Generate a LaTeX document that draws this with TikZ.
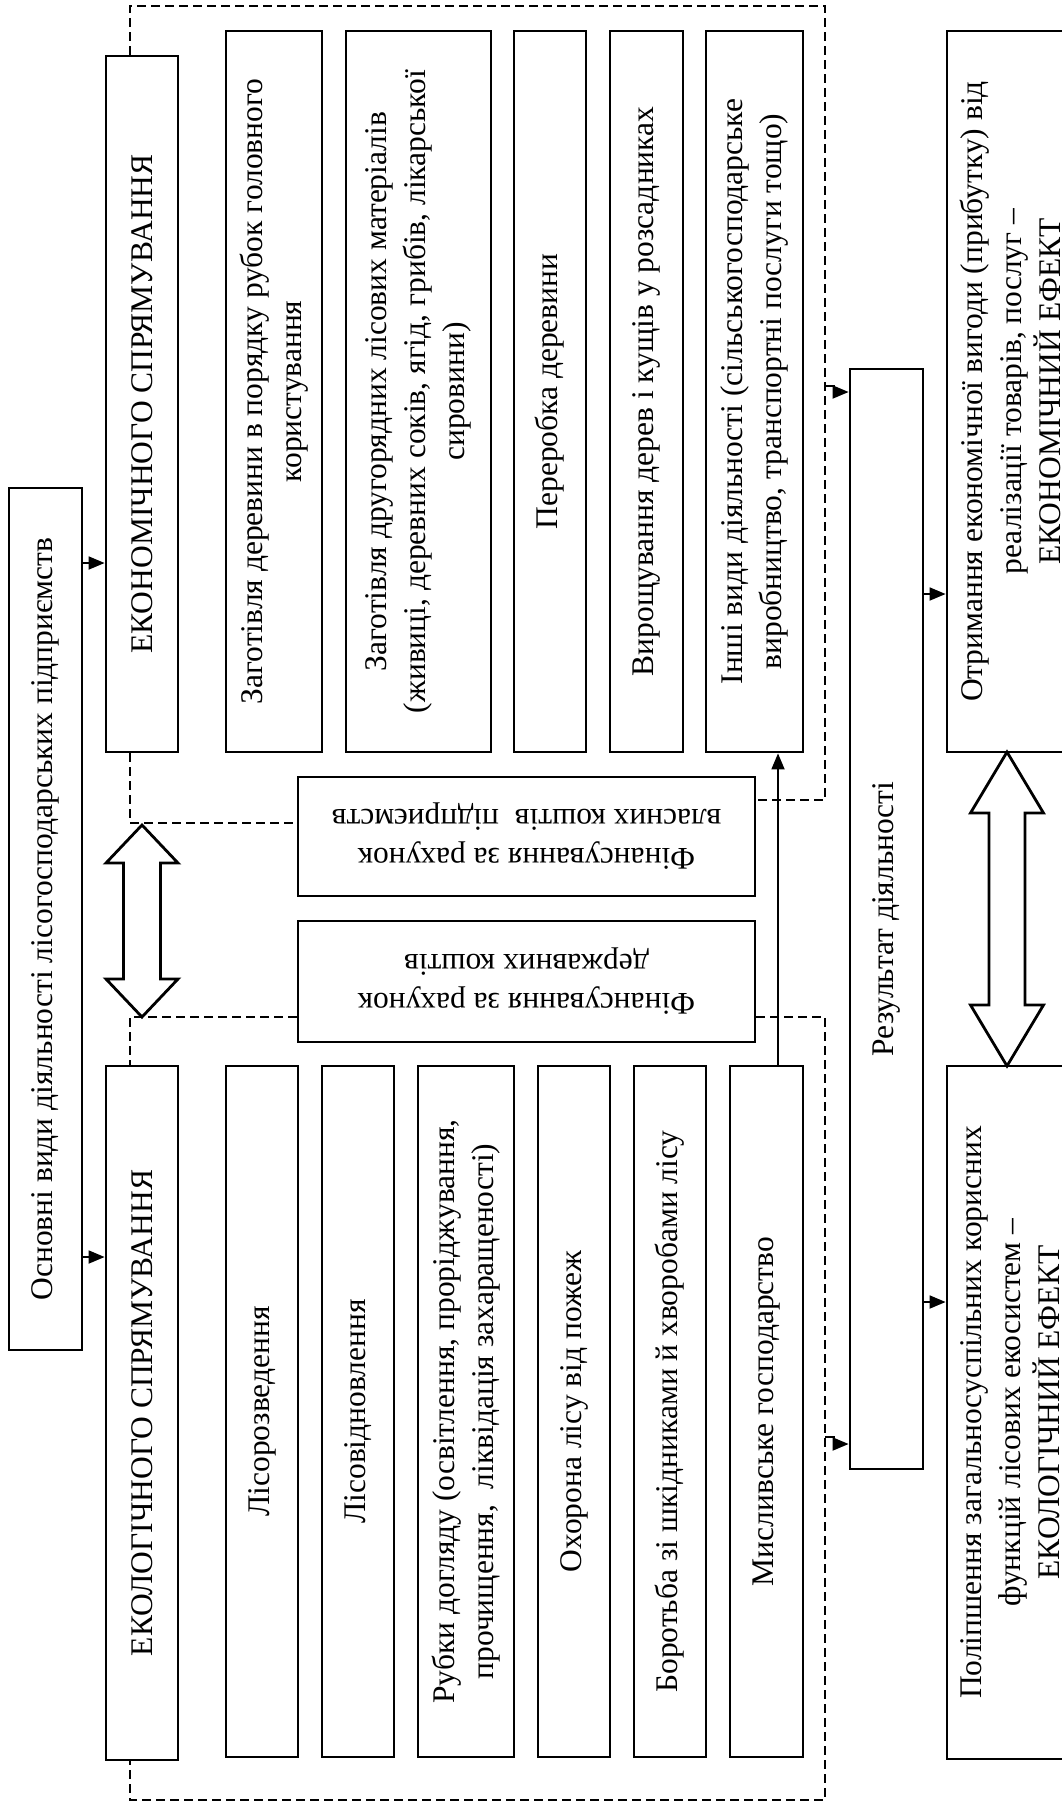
\documentclass[tikz,border=0pt]{standalone}
\usepackage{fontspec}
\setmainfont{Liberation Serif}
\usetikzlibrary{arrows.meta,calc}
\newcommand\dfont{\fontsize{31.5}{39}\selectfont}
\begin{document}
\begin{tikzpicture}[x=1pt,y=-1pt,
  bx/.style={draw, line width=2.8pt, inner sep=0pt, align=center, font=\dfont},
  vbox/.style={bx, rotate=90},
  hbox/.style={bx, rotate=180},
  dline/.style={line width=2.5pt, dash pattern=on 9pt off 5pt},
  arr/.style={line width=1.8pt, -{Triangle[length=16pt,width=13pt]}},
  dbl/.style={draw, line width=2.8pt, fill=white, line join=miter}]
\useasboundingbox (0,0) rectangle (1061,1807);

% main column
\node[vbox, minimum width=862pt, minimum height=73pt] (main) at (45.5,919) {Основні види діяльності лісогосподарських підприємств};
\node[vbox, minimum width=696pt, minimum height=72pt] (econ) at (142,404) {ЕКОНОМІЧНОГО СПРЯМУВАННЯ};
\node[vbox, minimum width=694pt, minimum height=72pt] (ecol) at (142,1413) {ЕКОЛОГІЧНОГО СПРЯМУВАННЯ};

% economic activities
\node[vbox, minimum width=721pt, minimum height=96pt] (e1) at (274,391.5) {Заготівля деревини в порядку рубок головного\\користування};
\node[vbox, minimum width=721pt, minimum height=145pt] (e2) at (418.5,391.5) {Заготівля другорядних лісових матеріалів\\(живиці, деревних соків, ягід, грибів, лікарської\\сировини)};
\node[vbox, minimum width=721pt, minimum height=72pt] (e3) at (550,391.5) {Переробка деревини};
\node[vbox, minimum width=721pt, minimum height=73pt] (e4) at (646.5,391.5) {Вирощування дерев і кущів у розсадниках};
\node[vbox, minimum width=721pt, minimum height=97pt] (e5) at (754.5,391.5) {Інші види діяльності (сільськогосподарське\\виробництво, транспортні послуги тощо)};

% ecological activities
\node[vbox, minimum width=691pt, minimum height=72pt] (g1) at (262,1411.5) {Лісорозведення};
\node[vbox, minimum width=691pt, minimum height=72pt] (g2) at (358,1411.5) {Лісовідновлення};
\node[vbox, minimum width=691pt, minimum height=96pt] (g3) at (466,1411.5) {Рубки догляду (освітлення, проріджування,\\прочищення,\ \ ліквідація захаращеності)};
\node[vbox, minimum width=691pt, minimum height=72pt] (g4) at (574,1411.5) {Охорона лісу від пожеж};
\node[vbox, minimum width=691pt, minimum height=72pt] (g5) at (670,1411.5) {Боротьба зі шкідниками й хворобами лісу};
\node[vbox, minimum width=691pt, minimum height=73pt] (g6) at (766.5,1411.5) {Мисливське господарство};

% financing
\node[hbox, minimum width=457pt, minimum height=119pt] (fin1) at (526.5,836.5) {Фінансування за рахунок\\власних коштів\ \ підприємств};
\node[hbox, minimum width=457pt, minimum height=121pt] (fin2) at (526.5,981.5) {Фінансування за рахунок\\державних коштів};

% result and effects
\node[vbox, minimum width=1100pt, minimum height=73pt] (res) at (886.5,919) {Результат діяльності};
\node[vbox, minimum width=721pt, minimum height=126pt] (effE) at (1010,391.5) {Отримання економічної вигоди (прибутку) від\\реалізації товарів, послуг –\\ЕКОНОМІЧНИЙ ЕФЕКТ};
\node[vbox, minimum width=693pt, minimum height=126pt] (effG) at (1010,1412.5) {Поліпшення загальносуспільних корисних\\функцій лісових екосистем –\\ЕКОЛОГІЧНИЙ ЕФЕКТ};

% dashed frames
\coordinate (tr) at (825,6);
\coordinate (br) at (825,1800);
\draw[dline] ([xshift=-12pt]econ.east) |- (tr) |- ([yshift=36.5pt]fin1.west);
\draw[dline] ([xshift=-12pt]econ.west) |- ([yshift=13.5pt]fin1.east);
\draw[dline] ([yshift=-35.5pt]fin2.east) -| ([xshift=-12pt]ecol.east);
\draw[dline] ([yshift=-35.5pt]fin2.west) -| (br) -| ([xshift=-12pt]ecol.west);

% arrows
\draw[arr] ([yshift=356pt]main.south) -- ([yshift=356pt]main.south -| econ.north);
\draw[arr] ([yshift=-338pt]main.south) -- ([yshift=-338pt]main.south -| ecol.north);
\draw[arr] ([xshift=11.5pt]g6.east) -- ([xshift=11.5pt]g6.east |- e5.west);

\coordinate (dA) at (825,386);
\coordinate (yA) at (0,392);
\coordinate (dB) at (825,1437);
\coordinate (yB) at (0,1444);
\draw[arr] (dA) -- ++(9,0) |- (res.north |- yA);
\draw[arr] (dB) -- ++(9,0) |- (res.north |- yB);

\draw[arr] ([yshift=325pt]res.south) -- ([yshift=325pt]res.south -| effE.north);
\draw[arr] ([yshift=-383pt]res.south) -- ([yshift=-383pt]res.south -| effG.north);

% double arrows
\draw[dbl] (142,825) -- ++(36,38) -- ++(-17.5,0) -- ++(0,116) -- ++(17.5,0) -- (142,1017)
  -- ++(-36,-38) -- ++(17.5,0) -- ++(0,-116) -- ++(-17.5,0) -- cycle;
\draw[dbl] (1007,752) -- ++(36.5,61) -- ++(-18.5,0) -- ++(0,192) -- ++(18.5,0) -- (1007,1066)
  -- ++(-36.5,-61) -- ++(18.5,0) -- ++(0,-192) -- ++(-18.5,0) -- cycle;
\end{tikzpicture}
\end{document}
